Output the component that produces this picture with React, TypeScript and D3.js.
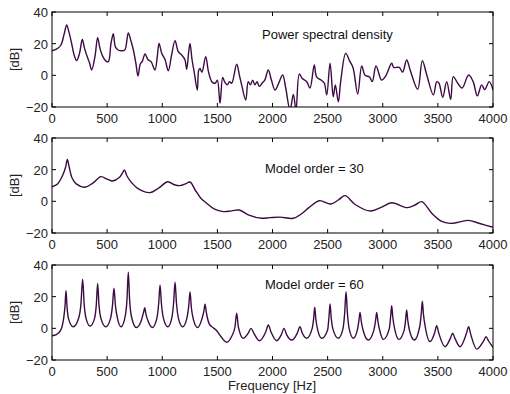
import React from "react";
import * as d3 from "d3";

// values, [frequency Hz, level dB]
const psd: [number, number][] = [
  [0, 15.5], [40, 16.5], [80, 19], [110, 26], [133, 31.8], [155, 27], [178, 20.2], [200, 13], [224, 9.3],
  [250, 14], [275, 22.7], [295, 17], [318, 12], [340, 8], [360, 3.4], [390, 12], [414, 23.8], [435, 17],
  [460, 12], [490, 9], [511, 8.6], [535, 20], [556, 26.3], [575, 18], [600, 16], [630, 15.5], [660, 16],
  [692, 26.7], [715, 22], [738, 16], [760, 8], [780, -0.4], [800, 7], [820, 9], [844, 13.5], [870, 10],
  [900, 8.5], [934, 3.4], [955, 12], [971, 20.2], [995, 14], [1025, 10], [1055, 2.9], [1085, 13], [1116, 21.9],
  [1145, 15], [1180, 12.5], [1205, 10], [1222, 3.8], [1240, 15], [1252, 20.2], [1270, 10], [1290, 2],
  [1318, -9.3], [1330, 3], [1342, 4.4], [1360, 2], [1394, 11.8], [1420, 2], [1450, -4], [1480, -5], [1500, -3],
  [1524, -17.7], [1548, -1.3], [1565, -4], [1590, -6], [1610, -4], [1630, -5], [1675, 7], [1700, 0], [1720, -6],
  [1757, -15.6], [1780, -4], [1800, -6], [1820, -3], [1840, -6], [1860, -4], [1880, -7], [1905, -5], [1930, -3],
  [1962, 3.4], [1990, -3], [2023, -9.3], [2050, -6], [2092, 0.2], [2120, -8], [2159, -22], [2189, -12],
  [2213, -22], [2243, 0.8], [2270, -2], [2310, -4], [2340, -8], [2379, 6.5], [2400, -1], [2440, -3], [2470, -5],
  [2492, -12.4], [2522, 7.6], [2551, -13.5], [2570, -6], [2597, -16.7], [2620, -3], [2664, 13.9], [2700, 9],
  [2730, 5], [2773, -11.8], [2809, 5.9], [2840, 0], [2880, -1], [2905, -4], [2939, 5.9], [2990, -3], [3030, 0],
  [3081, 7.6], [3100, 5], [3150, 5], [3180, 2], [3217, 9.7], [3250, 3], [3317, -8.8], [3359, 9.2], [3400, 0],
  [3459, -12.4], [3490, -4], [3510, -5], [3544, -13.9], [3580, -4], [3616, -15.2], [3640, -0.8], [3680, -5],
  [3720, -8], [3779, 0.2], [3820, -4], [3858, -13], [3897, -6], [3925, -9], [3966, -4], [4000, -9.3],
];

const order30: [number, number][] = [
  [0, 9.2], [50, 11], [100, 17], [125, 22], [139, 26.5], [155, 22], [180, 15], [220, 11], [299, 8.9],
  [370, 11.5], [444, 15.6], [500, 14], [550, 12.8], [610, 15], [640, 18], [656, 19.8], [680, 16], [720, 12],
  [780, 8], [889, 5.5], [970, 8.5], [1049, 12.4], [1110, 10.5], [1161, 9.9], [1210, 11], [1252, 12.2],
  [1300, 7], [1350, 2], [1403, -1.2], [1470, -4.8], [1554, -6.5], [1630, -6], [1699, -5.5], [1780, -8.5],
  [1902, -10.7], [1977, -10.3], [2068, -10], [2189, -10.7], [2260, -8], [2330, -4], [2425, 0.4], [2528, -1.7],
  [2600, 1], [2658, 3.6], [2750, -2], [2885, -6.1], [2980, -4], [3081, -0.9], [3223, -4], [3300, -2],
  [3353, -0.2], [3450, -8], [3530, -12.5], [3610, -13.9], [3700, -13], [3776, -12], [3880, -14], [4000, -16.4],
];

const order60: [number, number][] = [
  [0, -4.7], [40, -4], [80, -1], [105, 6], [118, 14], [127, 23.8], [136, 14], [150, 6], [193, 1.0],
  [240, 6], [262, 15], [278, 31], [292, 15], [310, 6], [345, 1.5],
  [385, 6], [402, 15], [414, 28.4], [426, 15], [445, 6], [488, 1.0],
  [530, 6], [548, 14], [562, 25.3], [576, 14], [595, 6], [627, 1.0],
  [665, 8], [680, 18], [692, 35.4], [704, 18], [722, 7], [765, 0.5],
  [810, 5], [830, 10], [841, 13], [852, 9], [875, 4], [910, 0.5],
  [950, 6], [968, 16], [980, 27.4], [992, 16], [1012, 6], [1050, 1.0],
  [1085, 6], [1103, 16], [1116, 29.1], [1129, 16], [1148, 6], [1185, 1.0],
  [1222, 6], [1240, 14], [1252, 23], [1264, 13], [1285, 5], [1320, 0.5],
  [1360, 6], [1378, 11], [1388, 15.2], [1400, 10], [1425, 3], [1460, 0.5], [1488, -1], [1530, -5],
  [1584, -8.8], [1630, -5], [1660, 1], [1675, 9.5], [1690, 1], [1735, -6.3],
  [1780, -3], [1805, 0], [1830, -3], [1881, -7.8],
  [1940, -2], [1962, 2.1], [1985, -2], [2038, -7.8], [2080, -4], [2104, 0], [2128, -4], [2174, -7.4],
  [2225, -3], [2249, 1], [2270, -3], [2310, -6.3],
  [2360, 0], [2373, 6], [2383, 13.3], [2393, 6], [2410, -1], [2446, -6.3],
  [2500, -1], [2512, 7], [2522, 15.4], [2532, 7], [2550, -1], [2597, -6.3],
  [2640, 0], [2655, 10], [2667, 23.2], [2679, 10], [2695, 0], [2733, -6.3],
  [2770, -1], [2784, 5], [2794, 10.1], [2806, 4], [2825, -2], [2869, -7.4],
  [2920, -1], [2935, 5], [2945, 10.1], [2957, 4], [2975, -2], [3005, -7],
  [3060, 0], [3071, 7], [3081, 14.3], [3091, 7], [3110, -1], [3147, -7],
  [3195, -1], [3207, 5], [3217, 11.6], [3227, 5], [3245, -2], [3287, -7.4],
  [3335, 1], [3349, 9], [3359, 17.1], [3369, 9], [3388, 0], [3429, -8.4],
  [3470, -3], [3489, 1.7], [3508, -3], [3565, -11.6],
  [3615, -6], [3634, -3.1], [3653, -6], [3701, -11.6],
  [3760, -3], [3779, 1], [3795, -3], [3852, -13.1],
  [3915, -8], [3937, -5.3], [3960, -8], [4000, -12],
];

const panels = [
  { data: psd, label: "Power spectral density", labelX: 262, labelDy: 27, smooth: true },
  { data: order30, label: "Model order = 30", labelX: 265, labelDy: 35, smooth: true },
  { data: order60, label: "Model order = 60", labelX: 265, labelDy: 24, smooth: false },
];

const xTicks = [0, 500, 1000, 1500, 2000, 2500, 3000, 3500, 4000];
const yTicks = [-20, 0, 20, 40];

const W = 510, H = 394;
const left = 52, right = 493;
const tops = [12, 138, 265];
const ph = 95;
const tickLen = 4;
const lineColor = "#3d0b43";
const font = "'Liberation Sans', Arial, sans-serif";

const fmt = (v: number) => (v < 0 ? "\u2212" + Math.abs(v) : String(v));

const Panel = ({ data, label, labelX, labelDy, smooth, top, idx }: any) => {
  const x = d3.scaleLinear().domain([0, 4000]).range([left, right]);
  const y = d3.scaleLinear().domain([-20, 40]).range([top + ph, top]);
  const line = d3
    .line<[number, number]>()
    .x(d => x(d[0]))
    .y(d => y(d[1]))
    .curve(smooth ? d3.curveCatmullRom.alpha(0.5) : d3.curveMonotoneX);
  const clipId = "clip" + idx;
  return (
    <g>
      <defs>
        <clipPath id={clipId}>
          <rect x={left} y={top} width={right - left} height={ph} />
        </clipPath>
      </defs>
      <path d={line(data) || ""} fill="none" stroke={lineColor} strokeWidth={1.4} clipPath={`url(#${clipId})`} />
      <rect x={left} y={top} width={right - left} height={ph} fill="none" stroke="#000" strokeWidth={1} />
      {xTicks.map(t => (
        <g key={"x" + t}>
          <line x1={x(t)} x2={x(t)} y1={top + ph} y2={top + ph - tickLen} stroke="#000" />
          <line x1={x(t)} x2={x(t)} y1={top} y2={top + tickLen} stroke="#000" />
          <text x={x(t)} y={top + ph + 16} textAnchor="middle" fontSize={13} fontFamily={font} fill="#222">
            {t}
          </text>
        </g>
      ))}
      {yTicks.map(t => (
        <g key={"y" + t}>
          <line x1={left} x2={left + tickLen} y1={y(t)} y2={y(t)} stroke="#000" />
          <line x1={right} x2={right - tickLen} y1={y(t)} y2={y(t)} stroke="#000" />
          <text x={left - 4} y={y(t) + 5} textAnchor="end" fontSize={13} fontFamily={font} fill="#222">
            {fmt(t)}
          </text>
        </g>
      ))}
      <text
        transform={`translate(19 ${top + ph / 2}) rotate(-90)`}
        textAnchor="middle"
        fontSize={13}
        fontFamily={font}
        fill="#222"
      >
        [dB]
      </text>
      <text x={labelX} y={top + labelDy} fontSize={13} fontFamily={font} fill="#111">
        {label}
      </text>
    </g>
  );
};

export default function App() {
  return (
    <svg width={W} height={H} style={{ display: "block", position: "absolute", left: 0, top: 0, background: "#fff" }}>
      {panels.map((p, i) => (
        <Panel
          key={i}
          data={p.data}
          label={p.label}
          labelX={p.labelX}
          labelDy={p.labelDy}
          smooth={p.smooth}
          top={tops[i]}
          idx={i}
        />
      ))}
      <text x={272} y={390} textAnchor="middle" fontSize={13} fontFamily={font} fill="#222">
        Frequency [Hz]
      </text>
    </svg>
  );
}
